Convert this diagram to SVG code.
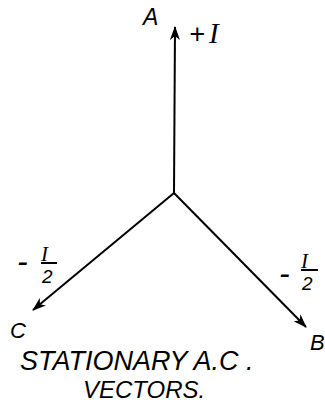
<svg xmlns="http://www.w3.org/2000/svg" width="325" height="405" viewBox="0 0 325 405">
<style>
.ln{stroke:#000;stroke-width:2;fill:none}
.t{font-family:"Liberation Sans",Arial,sans-serif;font-style:italic;fill:#000}
.s{font-family:"Liberation Serif","Times New Roman",serif;font-style:italic;fill:#000}
</style>
<defs>
<marker id="ah" viewBox="0 0 14 10" refX="13" refY="5" markerWidth="14" markerHeight="10" markerUnits="userSpaceOnUse" orient="auto">
<path d="M0,0 L14,5 L0,10 L4,5 Z" fill="#000"/>
</marker>
</defs>
<rect width="325" height="405" fill="#fff"/>
<g id="connectors">
<line class="ln" x1="174" y1="193" x2="175" y2="27" marker-end="url(#ah)"/>
<line class="ln" x1="174" y1="193" x2="33" y2="310" marker-end="url(#ah)"/>
<line class="ln" x1="174" y1="193" x2="306" y2="327" marker-end="url(#ah)"/>
</g>
<g id="A">
<text class="t" x="143" y="25" font-size="23">A</text>
<text class="t" x="189" y="43" font-size="27">+</text>
<text class="s" x="209" y="43" font-size="29">I</text>
</g>
<g id="C">
<text class="t" x="10" y="338" font-size="22">C</text>
<text class="t" x="17" y="272" font-size="32">-</text>
<text class="s" x="41" y="261" font-size="21">I</text>
<line class="ln" x1="41" y1="263" x2="57" y2="263"/>
<text class="t" x="42" y="283" font-size="19">2</text>
</g>
<g id="B">
<text class="t" x="310" y="350" font-size="22">B</text>
<text class="t" x="279" y="284" font-size="32">-</text>
<text class="s" x="301" y="268" font-size="21">I</text>
<line class="ln" x1="301" y1="270" x2="318" y2="270"/>
<text class="t" x="302" y="290" font-size="19">2</text>
</g>
<g id="caption">
<text class="t" x="20" y="370" font-size="27">STATIONARY A.C .</text>
<text class="t" x="83" y="398" font-size="24">VECTORS.</text>
</g>
</svg>
